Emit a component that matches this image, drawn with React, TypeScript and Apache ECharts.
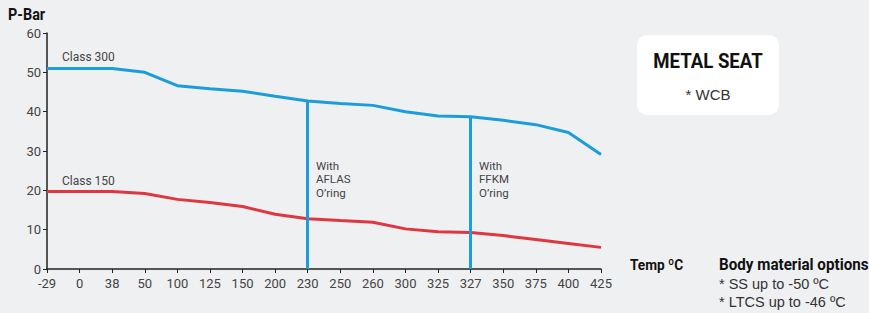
import React, { useEffect, useRef } from "react";
import * as echarts from "echarts";

const categories = ["-29", "0", "38", "50", "100", "125", "150", "200", "230", "250", "260", "300", "325", "327", "350", "375", "400", "425"];
const class300 = [51, 51, 51, 50, 46.6, 45.8, 45.2, 43.9, 42.7, 42.1, 41.6, 40.0, 38.9, 38.7, 37.8, 36.7, 34.7, 29.1];
const class150 = [19.7, 19.7, 19.7, 19.2, 17.7, 16.9, 15.9, 13.9, 12.8, 12.3, 11.9, 10.2, 9.5, 9.3, 8.5, 7.5, 6.5, 5.5];
const oringTemps = ["230", "327"];
const oringLabels = ["With\nAFLAS\nO\u2019ring", "With\nFFKM\nO\u2019ring"];
const yTicks = [0, 10, 20, 30, 40, 50, 60];

const BLUE = "#1b9ddb";
const RED = "#e0363f";
const BG = "#eff0f2";
const SANS = "Roboto, 'Liberation Sans', sans-serif";
const WIDE = "'Liberation Sans', Arial, sans-serif";

export default function App() {
  const ref = useRef<HTMLDivElement>(null);
  useEffect(() => {
    document.body.style.margin = "0";
    const chart = echarts.init(ref.current!, null, { renderer: "svg" });
    const markData = oringTemps.map((t) => {
      const v = class300[categories.indexOf(t)];
      return [{ coord: [t, 0] }, { coord: [t, v] }];
    });
    const boldText = (text: string, x: number, y: number, size: number, align = "left", sx = 0.88) => ({
      type: "text",
      x,
      y,
      scaleX: sx,
      style: { text, fill: "#111", fontSize: size, fontWeight: "bold", fontFamily: SANS, align, verticalAlign: "middle" },
    });
    chart.setOption({
      animation: false,
      backgroundColor: BG,
      grid: { left: 47, right: 268, top: 33, bottom: 44 },
      xAxis: {
        type: "category",
        data: categories,
        boundaryGap: false,
        axisLine: { lineStyle: { color: "#222", width: 1.5 } },
        axisTick: { alignWithLabel: true, length: 4, lineStyle: { color: "#222" } },
        axisLabel: { color: "#444", fontSize: 13, fontFamily: SANS, margin: 8, interval: 0 },
        splitLine: { show: false },
      },
      yAxis: {
        type: "value",
        min: yTicks[0],
        max: yTicks[yTicks.length - 1],
        interval: 10,
        axisLine: { show: true, lineStyle: { color: "#222", width: 1.5 } },
        axisTick: { show: true, length: 4, lineStyle: { color: "#222" } },
        axisLabel: { color: "#444", fontSize: 13, fontFamily: SANS, margin: 6 },
        splitLine: { show: false },
      },
      series: [
        {
          name: "Class 300",
          type: "line",
          data: class300,
          symbol: "none",
          lineStyle: { color: BLUE, width: 3 },
          markLine: {
            silent: true,
            symbol: "none",
            label: { show: false },
            lineStyle: { color: BLUE, width: 3, type: "solid" },
            data: markData,
          },
          z: 3,
        },
        {
          name: "Class 150",
          type: "line",
          data: class150,
          symbol: "none",
          lineStyle: { color: RED, width: 3 },
          z: 2,
        },
      ],
      graphic: [
        boldText("P-Bar", 8, 15, 16, "left", 0.9),
        { type: "text", left: 62, top: 51, style: { text: "Class 300", fill: "#444", fontSize: 12, fontFamily: SANS } },
        { type: "text", left: 62, top: 175, style: { text: "Class 150", fill: "#444", fontSize: 12, fontFamily: SANS } },
        { type: "text", left: 316, top: 159, style: { text: oringLabels[0], fill: "#444", fontSize: 11.5, lineHeight: 13.5, fontFamily: SANS } },
        { type: "text", left: 479, top: 159, style: { text: oringLabels[1], fill: "#444", fontSize: 11.5, lineHeight: 13.5, fontFamily: SANS } },
        {
          type: "rect",
          shape: { x: 637, y: 35, width: 142, height: 80, r: 10 },
          style: { fill: "#ffffff" },
        },
        boldText("METAL SEAT", 708, 61, 20, "center", 0.93),
        { type: "text", x: 708, y: 94, style: { text: "* WCB", fill: "#333", fontSize: 15, fontFamily: WIDE, align: "center", verticalAlign: "middle" } },
        boldText("Temp ºC", 630, 265, 15.5, "left", 0.88),
        boldText("Body material options", 719, 265, 16, "left", 0.95),
        { type: "text", x: 719, y: 284, style: { text: "* SS up to -50 ºC", fill: "#333", fontSize: 14.5, fontFamily: WIDE, verticalAlign: "middle" } },
        { type: "text", x: 719, y: 302, style: { text: "* LTCS up to -46 ºC", fill: "#333", fontSize: 14.5, fontFamily: WIDE, verticalAlign: "middle" } },
      ],
    });
    return () => chart.dispose();
  }, []);
  return <div ref={ref} style={{ position: "fixed", left: 0, top: 0, width: 869, height: 313 }} />;
}
